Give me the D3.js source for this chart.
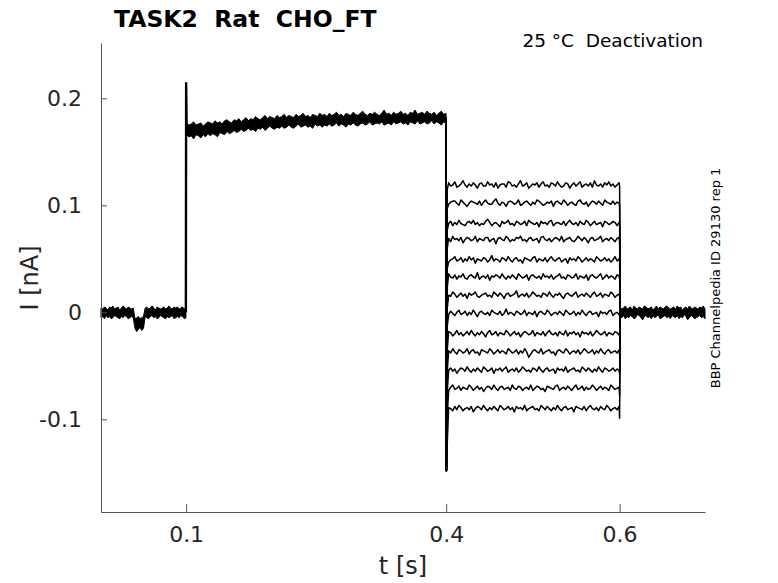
<!DOCTYPE html>
<html>
<head>
<meta charset="utf-8">
<script src="https://cdn.jsdelivr.net/npm/d3@7"></script>
<style>
  body{margin:0;background:#fff;}
  text{font-family:"DejaVu Sans",sans-serif;white-space:pre;}
</style>
</head>
<body>
<svg id="chart" width="778" height="583"></svg>
<script>
// 数据 (nA / s)，噪声按图读出，单位 pA
var xTicks = [0.1, 0.4, 0.6];
var xTickLabels = ["0.1", "0.4", "0.6"];
var yTicks = [-0.1, 0, 0.1, 0.2];
var yTickLabels = ["-0.1", "0", "0.1", "0.2"];

// 0 - 0.1 s 基线带 (含 0.04 s 处小凹陷)
var preUpper = [4,3,5,4,2,5,4,6,3,4,5,2,4,6,4,3,5,4,3,4,-6,-5,-4,-6,-5,-4,4,5,3,4,6,4,2,5,4,3,4,5,3,4,6,4,3,5,4,5,3,4,5,3,4];
var preLower = [-5,-4,-6,-3,-5,-4,-6,-5,-3,-4,-5,-6,-4,-5,-3,-4,-6,-5,-4,-5,-15,-18,-16,-14,-17,-15,-4,-5,-6,-4,-3,-5,-4,-6,-5,-3,-4,-5,-6,-4,-5,-4,-3,-6,-5,-4,-5,-3,-4,-6,-5];

// 0.1 s 冲击
var spikeT = [0.0997, 0.1, 0.1006];
var spikeI = [0, 0.215, 0.170];

// 0.1 - 0.4 s 保持带
var holdUpper = [177,175,176,178,175,176,177,174,176,178,
  177,176,179,177,178,176,179,180,178,177,
  180,179,181,178,180,182,179,181,180,183,
  181,180,182,184,181,183,182,181,184,182,
  183,185,182,184,183,182,185,183,184,186,
  183,184,182,185,184,183,186,184,185,183,
  186,184,185,187,184,185,183,186,185,184,
  187,185,184,186,188,185,184,186,185,187,
  185,184,186,189,185,186,184,187,185,186,
  188,185,186,184,187,186,189,185,186,187,
  185,188,186,185,187,184,186,188,185,186];
var holdLower = [166,164,165,162,166,165,163,166,164,167,
  165,167,166,164,168,167,166,169,167,168,
  170,168,169,171,169,170,172,170,171,169,
  172,171,173,170,172,174,172,171,173,172,
  174,172,173,175,173,172,174,176,173,174,
  175,173,174,172,176,174,175,173,175,174,
  176,174,175,177,174,176,175,173,176,175,
  177,175,174,176,177,175,176,178,175,176,
  177,176,178,175,176,177,175,178,176,177,
  178,176,177,175,178,177,176,179,176,177,
  178,176,177,179,176,178,177,175,178,177];

// 0.4 - 0.6 s 测试脉冲: 13 条扫描
var stepLevels = [0.119, 0.102, 0.083, 0.068, 0.049, 0.033, 0.016, -0.001, -0.020, -0.037, -0.054, -0.071, -0.090];
var onsetDip = [-4, -5, -6, -8, -8, -10, -12, -12, -15, -18, -20, -25, -32];
var tailStart = [0.118, 0.100, 0.082, 0.066, 0.048, 0.032, 0.015, -0.003, -0.022, -0.040, -0.058, -0.078, -0.099];
var stepNoise = [
  [2,-1,0,3,-2,-1,1,4,0,-2,1,-1,2,0,-3,1,2,-1,-1,3,0,1,-2,2,-3,0,1,1,-2,3,2,-1,0,-2,1,4,-1,0,2,-3,-1,1,0,2,-2,1,3,-1,0,-2,2,1,-1,3,0,-2,-1,2,1,-3,0,2,-1,1,3,-2,0,1,-1,2,-2,4,0,-1,1,-2,2,0,3,-1,1,-2,0,2],
  [-1,1,2,2,0,-2,3,1,-1,-3,0,2,1,0,-1,2,-2,1,3,0,-1,-1,2,4,0,-2,1,0,-3,1,2,1,-1,0,3,-2,-1,1,2,0,-2,1,-1,3,2,0,-2,-1,1,0,2,-3,1,2,0,-1,3,1,-2,0,1,-1,-2,2,3,0,-1,1,-3,0,2,1,-1,2,0,-2,3,1,0,-1,2,-1,1,0],
  [0,2,-2,1,-1,3,0,-1,-2,1,2,0,3,-1,1,-2,0,-1,2,4,1,-2,0,1,-1,-3,2,0,1,3,-1,0,-2,2,1,-1,0,2,-2,3,1,0,-1,1,-3,2,0,1,-1,2,3,-2,0,1,0,-1,2,-2,1,3,0,-1,1,-2,2,0,-1,3,1,-2,0,2,-1,0,1,-3,2,1,-1,0,2,1,-2,1],
  [1,-2,3,0,1,-1,2,-3,0,2,1,-1,0,3,-2,1,0,-1,2,2,-2,0,1,-4,1,2,0,-1,3,1,-2,0,-1,2,1,3,-1,0,-2,1,2,-1,0,1,-3,2,3,0,-1,1,-2,0,2,1,-1,3,-2,0,1,2,-1,-2,0,3,1,-1,2,0,-3,1,2,-1,0,1,3,-2,0,1,-1,2,0,-2,1,2],
  [-2,0,1,3,-1,0,2,-2,1,-1,3,0,2,-3,1,0,-1,2,1,-2,0,4,-1,1,0,-2,2,1,-1,3,0,-2,1,2,-1,0,-3,2,1,0,-1,2,3,-2,1,0,-1,2,-2,1,3,0,-1,1,2,-2,0,1,-3,2,0,1,-1,3,1,-2,0,2,-1,1,0,-2,3,1,-1,0,2,-1,1,-2,0,3,-1,1],
  [3,0,-1,2,-2,1,0,3,-1,-2,1,2,0,-1,4,-2,0,1,-1,2,-3,1,0,2,1,-1,3,0,-2,1,-1,2,0,-2,3,1,-1,0,2,-3,1,2,0,-1,1,-2,3,0,1,-1,2,-2,0,1,3,-1,0,-2,2,1,-1,0,3,-2,1,0,-1,2,-3,1,2,0,-1,1,3,-2,0,2,-1,1,0,-2,2,1],
  [0,-1,3,1,-2,0,2,-1,1,-3,2,0,1,3,-1,-2,0,1,2,-1,0,-2,3,1,-1,2,0,-3,1,2,-1,0,1,4,-2,0,1,-1,2,-2,0,3,1,-1,0,-2,2,1,-1,3,0,-2,1,0,2,-1,-3,1,2,0,-1,1,3,-2,0,1,-1,2,0,-2,1,3,-1,0,2,-2,1,0,-1,3,1,-2,0,1],
  [-1,2,0,-2,1,3,-1,0,2,-2,1,-1,3,0,-3,1,2,0,-1,1,-2,3,1,0,-1,2,-2,0,4,-1,1,0,-2,2,1,-1,0,3,-2,1,0,-1,2,-3,1,2,0,-1,3,1,-2,0,1,-1,2,0,-2,3,1,-1,0,2,-2,1,-1,3,0,-2,1,2,-1,0,1,-3,2,0,1,-1,2,3,-2,0,1,-1],
  [2,1,-2,0,3,-1,1,-2,0,2,-1,3,0,-2,1,-1,2,0,-3,1,3,-1,0,2,-2,1,0,-1,3,1,-2,0,2,-1,1,-3,0,2,1,-1,0,3,-2,1,0,-1,2,-2,1,3,0,-1,1,-2,2,0,-1,3,-2,1,0,2,-1,1,-3,2,0,1,-1,2,-2,0,3,1,-1,0,2,-2,1,0,-1,2,1,-1],
  [1,-1,3,0,-2,2,1,-1,0,3,-2,1,2,-1,0,-3,2,1,0,-1,3,1,-2,0,2,-1,1,0,-2,3,1,-1,0,2,-2,1,-1,3,0,-5,-2,1,2,0,-1,3,-2,0,1,2,-1,0,-3,1,2,0,-1,3,1,-2,0,1,-1,2,-2,0,3,1,-1,0,2,-2,1,-1,3,0,-2,1,2,-1,0,1,-1,2],
  [0,2,-1,1,-3,0,2,1,-1,3,0,-2,1,-1,2,0,-2,3,1,-1,0,2,-3,1,0,2,-1,1,3,-2,0,1,-1,2,-2,0,3,1,-1,0,-2,2,1,-1,3,0,-2,1,2,-1,0,1,-3,2,0,1,-1,3,-2,0,1,2,-1,0,-2,3,1,-1,2,0,-2,1,-1,3,0,-2,2,1,-1,0,2,-1,1,0],
  [-2,1,3,-1,0,2,-2,1,0,-1,3,1,-2,0,2,-1,1,-3,0,2,1,-1,3,0,-2,1,2,-1,0,1,-2,3,0,-1,2,1,-2,0,1,-1,3,-2,0,2,1,-1,0,-3,2,1,0,-1,2,3,-2,0,1,-1,2,0,-2,1,3,-1,0,2,-2,1,-1,0,3,1,-2,0,2,-1,1,0,-2,3,1,-1,0,1],
  [1,0,-2,2,-1,3,1,-2,0,1,-1,2,-3,0,2,1,-1,3,0,-2,1,-1,2,0,-2,3,1,-1,0,2,-1,1,-3,2,0,1,-1,3,-2,0,1,2,-1,0,-2,3,1,-1,2,0,-2,1,-1,3,0,-2,1,2,-1,0,1,-3,2,1,0,-1,2,-2,1,3,0,-1,1,-2,2,0,-1,3,1,-2,0,1,-1,2]
];
var holdEnd = 0.182;
var capMin = -0.148;

// 0.6 - 0.7 s 回到基线
var postUpper = [5,3,4,6,3,4,5,2,6,4,3,5,4,3,6,5,3,4,5,2,4,6,3,5,4,3,5,6,4,3,4,5,3,6,4,5,2,4,5,3,6,4,3,5,4,3,5,4,6,3];
var postLower = [-4,-5,-3,-6,-4,-5,-3,-4,-6,-5,-2,-3,-5,-7,-4,-3,-5,-4,-6,-3,-5,-4,-2,-6,-5,-4,-3,-5,-4,-6,-3,-4,-5,-3,-6,-4,-5,-2,-4,-7,-5,-3,-4,-6,-5,-4,-3,-5,-4,-6];

var svg = d3.select("#chart");
var x = d3.scaleLinear().domain([0.0018, 0.6985]).range([101, 705]);
var y = d3.scaleLinear().domain([-0.1866, 0.2517]).range([512, 43]);

// 带状区域: 上下沿按样本序号映射到时间
function band(upper, lower, t0, t1){
  var n = Math.min(upper.length, lower.length);
  var ti = d3.scaleLinear().domain([0, n - 1]).range([t0, t1]);
  var area = d3.area()
    .x(function(d){ return x(ti(d)); })
    .y0(function(d){ return y(lower[d] / 1000); })
    .y1(function(d){ return y(upper[d] / 1000); });
  svg.append("path")
    .attr("d", area(d3.range(n)))
    .attr("fill", "#000")
    .attr("stroke", "#000")
    .attr("stroke-width", 1);
}

var line = d3.line()
  .x(function(d){ return x(d[0]); })
  .y(function(d){ return y(d[1]); });

var traces = svg.append("g").attr("class", "traces");

band(preUpper, preLower, 0.0018, 0.0998);
band(holdUpper, holdLower, 0.1004, 0.3998);
band(postUpper, postLower, 0.6006, 0.6985);

traces.append("path")
  .attr("d", line(spikeT.map(function(t, i){ return [t, spikeI[i]]; })))
  .attr("fill", "none")
  .attr("stroke", "#000")
  .attr("stroke-width", 2.4);

stepLevels.forEach(function(lv, k){
  var nz = stepNoise[k];
  var ti = d3.scaleLinear().domain([0, nz.length - 1]).range([0.4028, 0.5994]);
  var pts = [[0.3998, holdEnd], [0.4002, capMin], [0.4012, lv + onsetDip[k] / 1000]];
  nz.forEach(function(v, i){ pts.push([ti(i), lv + v / 1000]); });
  pts.push([0.6, tailStart[k]]);
  pts.push([0.6008, 0]);
  traces.append("path")
    .attr("d", line(pts))
    .attr("fill", "none")
    .attr("stroke", "#000")
    .attr("stroke-width", 1.5)
    .attr("stroke-linejoin", "round");
});

// 坐标轴
var axX = svg.append("g")
  .attr("transform", "translate(0,512)")
  .call(d3.axisBottom(x).tickValues(xTicks).tickSizeInner(-8).tickSizeOuter(0).tickPadding(14)
    .tickFormat(function(d, i){ return xTickLabels[i]; }));
var axY = svg.append("g")
  .attr("transform", "translate(101,0)")
  .call(d3.axisLeft(y).tickValues(yTicks).tickSizeInner(-6).tickSizeOuter(0).tickPadding(19)
    .tickFormat(function(d, i){ return yTickLabels[i]; }));

[axX, axY].forEach(function(a){
  a.select(".domain").attr("stroke", "#555").attr("stroke-width", 1);
  a.selectAll(".tick line").attr("stroke", "#555");
  a.selectAll(".tick text")
    .attr("fill", "#262626")
    .style("font-family", "DejaVu Sans")
    .style("font-size", "22px");
});

svg.append("text")
  .attr("x", 403).attr("y", 574)
  .attr("text-anchor", "middle")
  .attr("fill", "#262626")
  .style("font-size", "24px")
  .text("t [s]");

svg.append("text")
  .attr("transform", "translate(38,278) rotate(-90)")
  .attr("text-anchor", "middle")
  .attr("fill", "#262626")
  .style("font-size", "24px")
  .text("I [nA]");

svg.append("text")
  .attr("x", 114).attr("y", 27)
  .attr("fill", "#000")
  .style("font-size", "23.5px")
  .style("font-weight", "bold")
  .text("TASK2  Rat  CHO_FT");

svg.append("text")
  .attr("x", 703).attr("y", 47)
  .attr("text-anchor", "end")
  .attr("fill", "#000")
  .style("font-size", "18.5px")
  .text("25 °C  Deactivation");

svg.append("text")
  .attr("transform", "translate(720,278) rotate(-90)")
  .attr("text-anchor", "middle")
  .attr("fill", "#000")
  .style("font-size", "13px")
  .text("BBP Channelpedia ID 29130 rep 1");
</script>
</body>
</html>
